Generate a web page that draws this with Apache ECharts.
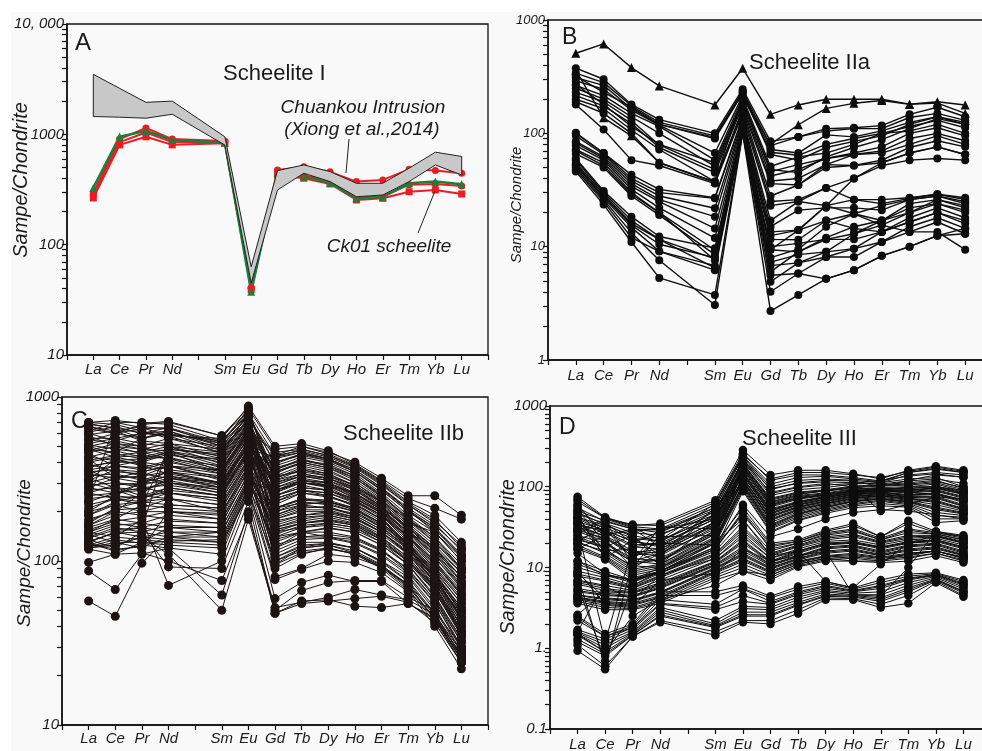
<!DOCTYPE html>
<html>
<head>
<meta charset="utf-8">
<script src="https://cdn.jsdelivr.net/npm/echarts/dist/echarts.min.js"></script>
<style>
html,body{margin:0;padding:0;background:#fff}
#chart{width:982px;height:751px}
</style>
</head>
<body>
<div id="chart"></div>
<script>
// Chondrite-normalised REE patterns, four panels (A–D)
const xLabels = ['La','Ce','Pr','Nd','','Sm','Eu','Gd','Tb','Dy','Ho','Er','Tm','Yb','Lu'];
const ree = ['La','Ce','Pr','Nd','Sm','Eu','Gd','Tb','Dy','Ho','Er','Tm','Yb','Lu'];

// Panel A — Scheelite I (Ck01) and Chuankou intrusion field
const ck01Red = [
  [294, 906, 1141, 906, 870, 41, 475, 508, 457, 373, 386, 482, 469, 444],
  [282, 850, 1038, 850, 840, 40, 457, 423, 385, 270, 272, 350, 355, 340],
  [265, 803, 950, 803, 830, 39, 428, 400, 355, 254, 263, 302, 313, 288]
];
const ck01RedSymbols = ['circle', 'circle', 'rect'];
const ck01Green = [327, 953, 1074, 890, 841, 37.5, 444, 414, 365, 263, 272, 360, 373, 353];
const chuankouUpper = [3500, 2610, 1950, 2000, 950, 63, 469, 528, 459, 360, 360, 493, 689, 630];
const chuankouLower = [1450, 1430, 1400, 1520, 800, 45, 313, 444, 373, 272, 282, 373, 528, 428];

// Panel B — Scheelite IIa
const scheeliteIIa = [
  [509, 615, 380, 262, 178, 375, 147, 178, 200, 200, 200, 181, 190, 178],
  [360, 137, 95, 55, 37.5, 210, 80, 119, 166, 184, 195, 180, 185, 150],
  [376, 300, 180, 132, 100, 245, 85, 93, 110, 112, 117, 147, 170, 140],
  [340, 280, 175, 125, 95, 235, 78, 93, 105, 110, 110, 138, 150, 130],
  [310, 265, 165, 120, 90, 225, 72, 67, 97, 93, 105, 125, 140, 120],
  [320, 230, 170, 120, 92, 230, 65, 58, 75, 85, 95, 120, 140, 125],
  [290, 245, 160, 118, 67, 215, 68, 64, 80, 90, 100, 115, 130, 112],
  [265, 215, 150, 115, 58, 205, 51, 62, 67, 80, 100, 105, 120, 100],
  [250, 200, 140, 100, 51, 195, 46, 53, 60, 67, 76, 100, 112, 95],
  [270, 180, 115, 80, 55, 190, 48, 45, 62, 75, 88, 110, 135, 120],
  [230, 190, 130, 79, 48, 185, 42, 48, 60, 65, 70, 90, 100, 86],
  [215, 175, 122, 75, 45, 175, 38, 40, 53, 65, 67, 80, 95, 80],
  [200, 165, 107, 72, 37.5, 165, 36, 35, 53, 52, 58, 75, 86, 76],
  [190, 150, 100, 55, 37, 160, 28, 35, 50, 52, 55, 67, 76, 65],
  [180, 108, 58, 52, 36, 150, 25, 26, 33, 40, 52, 58, 60, 58],
  [101, 67, 43, 32, 27, 140, 23, 25, 33, 26, 24, 26.7, 29, 26],
  [100, 67, 40, 30, 26.7, 135, 17, 25, 23, 26, 26, 27, 29, 27],
  [95, 65, 38, 28, 21.8, 130, 15, 21, 22, 22, 21, 26, 28, 25],
  [85, 62, 36, 26, 18.4, 125, 13.5, 14, 17, 19.5, 17, 24, 26, 23],
  [82, 60, 34, 25, 14.5, 120, 12.5, 14, 23, 19.5, 15.5, 20, 24, 20],
  [78, 58, 32, 22, 11.9, 115, 11.6, 11.5, 17, 14.5, 13.5, 18, 22, 18],
  [72, 55, 30, 20, 9.35, 110, 10, 10.7, 11.6, 13, 17, 20, 26, 22],
  [70, 52, 29, 20, 7.6, 105, 9.4, 14, 23, 40, 55, 67, 76, 65],
  [66, 50, 28, 19, 8.5, 108, 9.4, 9, 11.6, 11.6, 13.5, 16.5, 20, 17],
  [60, 31, 18.4, 12.3, 9.7, 115, 7.3, 8.5, 9, 9.6, 11, 15, 18, 14.5],
  [58, 30, 17, 11.6, 7.8, 112, 6.8, 7.2, 8.1, 8.1, 11, 13.5, 16.5, 13],
  [55, 29, 16, 11.6, 6.5, 105, 5.6, 5.8, 8.1, 9.6, 13.5, 16.5, 20, 16],
  [53, 28, 15.5, 10.5, 8, 108, 8, 9.5, 15, 19.5, 23, 26, 28, 24],
  [52, 27, 14.8, 9.1, 6.2, 100, 4.9, 7.2, 9, 13, 15.5, 13.5, 13.5, 9.4],
  [50, 26, 13.3, 7.6, 3.06, 100, 2.7, 3.75, 5.2, 6.2, 8.3, 10, 12.5, 14.5],
  [48, 25, 12, 9.1, 6.8, 110, 6, 9, 12, 15, 17, 22, 24, 21],
  [46, 23.5, 11, 5.3, 3.75, 102, 4.0, 5.8, 5.2, 6.2, 8.3, 10, 12.5, 13]
];
const scheeliteIIaSymbols = ['triangle', 'triangle'];

// Panel C — Scheelite IIb
const scheeliteIIb = [
  [690,640,560,600,520,850,480,500,460,400,320,250,250,190],
  [230,700,650,580,560,880,500,520,470,390,310,240,210,180],
  [640,600,680,700,580,820,300,330,320,280,230,180,140,90],
  [150,180,220,480,450,800,440,470,430,370,290,220,175,125],
  [560,560,600,650,500,760,200,230,220,200,160,120,80,45],
  [660,620,540,520,480,740,400,440,410,350,270,200,160,110],
  [470,520,500,560,460,720,150,160,170,160,130,100,70,40],
  [580,500,450,480,440,700,360,420,380,330,250,185,140,95],
  [130,150,160,500,420,680,350,400,370,320,245,175,130,90],
  [500,450,420,460,400,660,120,150,140,130,110,85,55,30],
  [400,430,440,420,380,650,330,380,350,300,230,165,120,85],
  [380,400,400,450,370,620,460,480,440,380,300,225,180,120],
  [450,380,360,400,350,600,250,280,270,240,200,150,110,70],
  [350,360,330,380,340,580,300,340,320,270,210,150,105,70],
  [330,340,310,350,320,560,180,200,200,180,150,115,75,42],
  [310,420,380,340,300,540,280,320,300,250,200,140,95,62],
  [290,300,290,320,290,520,420,460,420,360,280,210,165,118],
  [420,320,300,300,280,500,100,120,125,115,95,70,45,25],
  [270,280,270,310,270,480,250,290,270,230,185,125,82,52],
  [250,260,280,290,260,460,380,430,400,340,260,190,150,100],
  [240,250,240,270,250,450,160,180,190,175,145,110,72,38],
  [700,680,620,560,500,700,230,270,250,215,175,118,75,48],
  [620,700,700,680,540,780,140,150,160,150,125,95,62,33],
  [520,560,520,500,460,640,320,370,340,290,225,160,115,80],
  [480,460,560,620,480,720,210,240,230,210,170,130,88,55],
  [600,540,500,440,420,600,270,310,290,240,195,135,90,58],
  [360,300,280,260,240,420,440,500,450,385,305,230,190,130],
  [320,280,250,240,220,400,120,140,140,135,115,90,58,32],
  [200,220,200,200,190,360,260,300,280,235,190,130,86,55],
  [180,200,190,180,170,340,110,130,130,120,100,80,50,28],
  [160,180,170,160,160,320,190,220,210,195,160,120,80,45],
  [150,170,160,150,150,300,90,110,120,110,92,68,42,24],
  [140,160,150,140,140,290,170,190,200,185,150,112,75,40],
  [130,150,140,135,130,280,130,150,150,140,118,88,58,30],
  [125,140,135,130,125,270,230,260,250,220,180,122,80,50],
  [120,130,130,125,120,260,100,115,120,110,90,66,40,22],
  [220,240,230,220,210,380,150,170,175,165,135,100,68,36],
  [190,230,250,260,230,410,350,390,360,300,235,170,125,85],
  [170,210,230,240,200,370,140,160,165,155,130,95,60,34],
  [260,240,220,210,200,350,95,120,125,112,92,72,48,26],
  [145,130,120,200,180,330,200,220,230,205,165,125,84,48],
  [98,110,130,160,150,310,125,140,145,138,116,86,56,29],
  [87,67,110,120,110,280,80,90,110,105,92,70,44,26],
  [57,46,97,140,130,250,59,74,82,75,75,55,45,27],
  [135,120,150,92,90,230,48,57,58,53,52,55,44,25],
  [128,115,125,120,62,200,48,55,57,59,61,56,42,24],
  [118,110,112,100,76,190,52,56,60,67,62,58,47,28],
  [125,125,140,110,50,180,50,66,74,76,76,60,50,30],
  [150,140,180,71,100,260,77,89,100,98,85,65,46,27],
  [300,330,320,300,270,450,330,350,330,290,230,165,120,80],
  [280,260,300,330,300,500,290,330,310,260,205,145,98,64],
  [550,520,480,470,380,700,175,190,195,180,150,110,70,38],
  [510,480,460,420,350,620,220,260,245,220,180,125,85,50],
  [430,410,390,360,330,560,105,125,128,120,98,75,46,25],
  [390,350,340,320,300,520,185,210,215,190,155,118,78,42],
  [340,320,350,380,310,540,145,165,170,160,135,98,65,35],
  [700,720,690,710,580,860,260,310,300,255,205,150,120,80],
  [660,600,640,650,530,800,340,400,370,310,240,170,150,100],
  [610,660,600,620,500,780,390,450,420,360,280,205,150,105],
  [590,620,660,640,520,760,270,300,290,260,210,160,120,75],
  [540,600,560,600,470,740,430,460,420,350,275,205,160,105],
  [500,540,600,580,450,720,190,215,210,190,155,118,78,44],
  [460,500,480,520,430,690,310,360,330,280,215,155,110,72],
  [430,470,430,470,410,670,240,270,260,230,190,140,100,62],
  [410,440,460,500,390,640,370,410,390,330,255,180,130,88],
  [370,410,420,430,360,610,160,175,185,170,140,105,68,37],
  [340,380,370,410,340,590,280,310,300,260,205,150,100,66],
  [310,360,350,380,320,570,210,235,230,205,170,125,82,48],
  [280,320,330,350,300,540,400,450,410,350,270,200,155,108],
  [260,290,300,330,280,520,115,135,138,128,108,82,52,28],
  [230,260,270,300,260,490,320,360,340,285,220,160,112,75],
  [210,240,250,280,250,470,165,185,190,175,140,105,70,37],
  [190,220,230,260,240,440,270,300,285,245,195,140,92,60],
  [175,205,210,240,220,420,135,150,158,150,125,95,60,32],
  [165,190,200,220,210,400,240,270,260,225,180,128,84,52],
  [155,175,185,200,195,380,105,122,128,120,100,76,48,26],
  [145,165,170,190,180,360,210,240,235,210,168,122,80,46],
  [138,155,160,175,170,340,95,112,118,112,94,72,44,24],
  [132,148,150,165,160,320,180,205,205,185,150,112,74,40],
  [300,270,240,280,250,480,430,480,440,375,295,220,170,115],
  [480,430,400,380,360,640,155,170,178,165,135,100,66,36],
  [680,650,600,590,540,820,310,340,320,275,215,160,115,74],
  [360,380,410,460,350,600,290,330,310,270,215,155,105,68],
  [200,250,300,350,290,500,360,410,380,320,250,180,135,90],
  [165,200,260,320,280,470,250,280,270,235,190,135,90,58],
  [120,125,140,150,140,300,270,300,290,250,200,142,96,62],
  [122,135,128,132,135,280,210,225,225,200,162,120,78,44],
  [127,118,122,140,150,310,155,170,180,168,138,102,66,35]
];

// Panel D — Scheelite III
const scheeliteIII = [
  [75,42,33,35,68,285,140,160,160,145,125,160,180,160],
  [28,40,31,22,62,240,108,130,135,125,115,150,165,150],
  [58,26,28,30,40,220,82,98,105,110,120,135,145,130],
  [20,36,20,28,52,205,78,92,98,108,112,125,130,100],
  [48,34,24,14,48,195,72,86,92,102,106,112,120,95],
  [45,13,22,24,25,185,68,82,88,98,102,105,112,92],
  [22,30,13,22,42,180,64,78,84,94,98,100,108,88],
  [40,28,19,20,19,175,60,74,80,90,95,96,100,84],
  [38,16,17,11,38,168,56,70,78,88,92,92,96,80],
  [17,25,30,18,36,160,53,66,76,86,90,88,92,76],
  [34,24,15,17,34,152,50,63,73,83,88,84,88,72],
  [60,23,14,16,33,145,48,61,71,81,86,80,84,68],
  [30,22,10,15,55,138,46,59,69,79,84,78,80,64],
  [28,21,12,32,30,130,44,57,67,77,82,76,76,60],
  [52,20,11.5,13,28,125,42,55,65,75,80,74,72,57],
  [26,38,11,12.5,27,120,40,53,63,73,78,72,68,54],
  [24,18,25,12,26,116,38,51,61,71,76,70,64,52],
  [23,17,10,26,45,112,36,49,59,69,74,68,60,50],
  [42,16,9.5,11,24,108,34,47,57,67,72,66,56,48],
  [21,15,9,10.5,23,104,32,45,55,65,70,64,52,46],
  [36,14,8.5,10,22,100,31,43,53,62,68,62,48,44],
  [19,13.5,8,9.5,21,96,30,41,51,60,66,60,44,42],
  [18,13,7.5,9,20,92,28,39,49,58,62,58,40,40],
  [17,12.6,7,8.5,17,88,27,38,47,55,58,56,36,38],
  [65,41,34,33,64,260,120,140,140,130,118,150,170,150],
  [55,37,30,29,55,230,92,112,120,118,100,120,140,132],
  [42,33,25,21,50,210,85,100,110,100,90,100,100,90],
  [33,29,21,18,46,200,65,80,90,95,50,60,75,70],
  [8,0.6,12,15,30,150,50,65,75,85,90,85,80,70],
  [30,1.2,18,20,40,180,60,72,80,88,90,90,95,82],
  [70,41,32,30,60,250,125,150,150,140,130,155,175,155],
  [50,38,30,27,56,235,100,120,125,120,112,140,150,140],
  [46,35,27,25,50,215,95,110,115,112,108,118,125,110],
  [41,31,23,21,44,190,70,84,90,100,104,108,116,98],
  [37,29,21,19,40,172,62,76,82,92,96,94,102,86],
  [35,27,18,17,37,165,58,72,79,89,92,90,98,82],
  [31,25,16,15,35,150,52,64,74,84,88,86,90,74],
  [29,23,15,14,32,140,47,60,70,80,85,79,82,66],
  [25,20,13,12,29,128,43,56,66,76,80,75,74,58],
  [22,18,12,11,26,118,39,52,62,72,77,71,66,53],
  [20,16,10.5,10,23,106,33,46,56,66,71,65,54,47],
  [12,9,7,9,18,60,24,30,40,48,52,50,45,40],
  [15,8.3,7,10,20,55,20,22,29,35,24,38,28,24],
  [12,8,6.5,9,18,45,18,21,27,30,23,30,27,23],
  [9,7.5,6,8.5,16,38,16,20,25,28,22,27,26,22],
  [8.3,7,5.8,8,15,32,15,19,24,26,21,25,25,21],
  [1.6,6.5,5.5,7.5,14,28,14,18,22,24,20,23,24,20],
  [7,6,5.2,7,13,24,13,17,21,22,19,22,23,19],
  [6.5,5.5,5,6.5,12,22,12,16,20,21,18,21,22,18],
  [2.6,5,4.8,6,11.5,20,11.5,15,19,20,17,20,21,17],
  [5.5,4.8,4.5,5.8,11,18,11,14,18,19,16,19,20,16],
  [5,4.5,4.3,5.5,10.5,16,10.5,13.5,17,18,15,18,19,15],
  [8.5,4.2,4,5,10,15,10,13,16,17,14.5,17,18,14.5],
  [4.5,4,3.8,4.8,9.5,14,9.5,12.5,15,16,14,16,17,14],
  [4.3,3.8,3.6,4.5,9,13,9,12,14,15,13.5,15,16,13.5],
  [4.1,3.6,3.4,4.2,8.5,12,8.5,11.5,13.5,14,13,14,16,13],
  [4,3.4,3.2,4,8,11,8,11,13,13.5,12.5,13.5,15,12.5],
  [3.8,3.2,3.1,3.8,7.5,10,7.5,10.5,12.5,13,12,13,15,12],
  [3.6,3,3,3.6,7,9,7,10.2,12,12,11.5,12,14,11.5],
  [10,8,7,9,17,50,19,21,28,33,24,35,27,24],
  [6.8,5.8,4,8,13,26,13,16,6.7,5.6,11,20,25,20],
  [9,3.5,3.3,7,8.5,17,12,14,16,4.6,4.4,10,28,25],
  [6,0.7,6,9,20,40,14,16,20,20,18,20,22,18],
  [11,8.3,6.8,8.6,17,48,17,20,26,29,22,29,26,22],
  [7.8,6.8,5.6,7.8,14.5,30,14.5,18.5,23,25,20.5,24,24.5,20.5],
  [6.2,5.2,4.9,6.2,11.8,21,11.8,15.5,19.5,20.5,17.5,20.5,21.5,17.5],
  [5.2,4.6,4.4,5.6,10.8,17,10.8,13.8,17.5,18.5,15.5,18.5,19.5,15.5],
  [4.6,4.1,3.9,4.9,9.8,14.5,9.8,12.8,15.5,16.5,14.2,16.5,17.5,14.2],
  [4.2,3.7,3.5,4.3,8.8,12.5,8.8,11.8,13.8,14.5,13.2,14.5,16,13.2],
  [1.5,0.9,2.5,4,6,9,8,11,13,12,12,15,16,13],
  [2.5,1.5,2,5,5,6,4.4,5.8,6.7,5.6,7,8.3,8.6,7],
  [2.4,1.4,1.9,4.5,4.5,5.5,4.2,5.4,6.4,5.4,6.5,7.8,8.4,6.7],
  [2.2,1.4,1.8,3.6,3.2,4.5,3.6,4.8,5.8,5.1,5.8,7.2,8.1,6.2],
  [1.7,1.3,1.8,4,3.5,5.4,3.8,5,6,5.2,6,7.4,8.2,6.4],
  [1.6,1.2,1.7,3.5,3.0,3.8,3.5,4.6,5.5,5,5.5,7,8,6],
  [1.55,1.1,1.6,3.2,2.2,3.3,3.2,4.3,5.2,4.8,5,6.5,7.8,5.7],
  [1.5,1,1.55,3,2,3.1,3,4,5,4.6,4.6,6,7.5,5.4],
  [1.45,0.9,1.5,2.8,1.9,2.8,2.8,3.7,4.7,4.5,4.2,5.6,7.2,5.1],
  [1.3,0.85,1.45,2.6,1.85,2.6,2.6,3.5,4.5,4.4,4,5.3,7.1,5],
  [1.2,0.8,1.45,2.5,1.8,2.5,2.5,3.4,4.4,4.3,3.8,5,7,4.8],
  [1.1,0.6,1.4,2.2,1.6,2.2,2.2,3,4.2,4.1,3.5,4.5,6.8,4.5],
  [0.93,0.55,1.4,2.1,1.45,2.1,2,2.7,4,4,3.2,3.6,6.5,4.35]
];

// Axis tick values and their printed labels
const yTicksA = [10, 100, 1000, 10000];
const yTextA = ['10', '100', '1000', '10, 000'];
const yTicksB = [1, 10, 100, 1000];
const yTextB = ['1', '10', '100', '1000'];
const yTicksC = [10, 100, 1000];
const yTextC = ['10', '100', '1000'];
const yTicksD = [0.1, 1, 10, 100, 1000];
const yTextD = ['0.1', '1.', '10.', '100.', '1000'];

// ---------- helpers ----------
const FONT = '"Liberation Sans", Arial, sans-serif';
const slot = i => xLabels.indexOf(ree[i]);
const profile = vals => vals.map((v, i) => [slot(i), v]);

function labelFor(ticks, texts) {
  return v => {
    const i = ticks.findIndex(t => Math.abs(Math.log10(t) - Math.log10(v)) < 1e-6);
    return i >= 0 ? texts[i] : '';
  };
}

// tick marks at every decade plus 2..9 inside each decade
function logTickValues(ticks) {
  const vals = [];
  for (let d = 0; d < ticks.length - 1; d++) {
    for (let k = 1; k <= 9; k++) vals.push(Number((ticks[d] * k).toPrecision(6)));
  }
  vals.push(ticks[ticks.length - 1]);
  return vals;
}

const panels = [
  { grid: { left: 67, top: 24, width: 421, height: 331 }, ticks: yTicksA, texts: yTextA, yFont: 15, xMargin: 7 },
  { grid: { left: 548, top: 20, width: 445, height: 340 }, ticks: yTicksB, texts: yTextB, yFont: 13, xMargin: 8 },
  { grid: { left: 62, top: 397, width: 426, height: 328 }, ticks: yTicksC, texts: yTextC, yFont: 15, xMargin: 6 },
  { grid: { left: 550, top: 406, width: 441, height: 323 }, ticks: yTicksD, texts: yTextD, yFont: 15, xMargin: 8 }
];

const grids = panels.map(p => Object.assign({
  show: true, borderColor: '#111', borderWidth: 1.3, backgroundColor: 'transparent',
  containLabel: false, outerBoundsMode: 'none'
}, p.grid));

const xAxes = panels.map((p, i) => ({
  type: 'value', gridIndex: i, min: -1, max: 15, interval: 1,
  axisLine: { show: true, onZero: false, lineStyle: { color: '#111', width: 1.5 } },
  axisTick: { show: true, length: 5, lineStyle: { color: '#111', width: 1.2 } },
  axisLabel: {
    formatter: v => xLabels[v] || '', fontStyle: 'italic', fontSize: 15, color: '#1a1a1a',
    fontFamily: FONT, margin: p.xMargin, showMinLabel: true, showMaxLabel: true, hideOverlap: false
  },
  splitLine: { show: false }
}));

const yAxes = panels.map((p, i) => ({
  type: 'log', logBase: 10, gridIndex: i,
  min: p.ticks[0], max: p.ticks[p.ticks.length - 1],
  axisLine: { show: true, onZero: false, lineStyle: { color: '#111', width: 1.5 } },
  axisTick: { show: true, length: 5, customValues: logTickValues(p.ticks),
              lineStyle: { color: '#111', width: 1.2 } },
  axisLabel: {
    formatter: labelFor(p.ticks, p.texts), fontStyle: 'italic', fontSize: p.yFont,
    color: '#1a1a1a', fontFamily: FONT, margin: 3, showMinLabel: true, showMaxLabel: true, hideOverlap: false
  },
  splitLine: { show: false }
}));

function lineSeries(idx, vals, o) {
  return {
    type: 'line', xAxisIndex: idx, yAxisIndex: idx, data: profile(vals),
    symbol: o.symbol || 'circle', symbolSize: o.size, showSymbol: true, showAllSymbol: true,
    lineStyle: { color: o.color, width: o.width },
    itemStyle: { color: o.fill || o.color, borderColor: o.color, borderWidth: o.border || 0, opacity: 1 },
    emphasis: { disabled: true }, silent: true, animation: false, z: o.z || 3
  };
}

const series = [];

// Panel A
ck01Red.forEach((vals, k) => series.push(lineSeries(0, vals,
  { color: '#ec1c24', width: 2, size: 7, symbol: ck01RedSymbols[k], z: 3 })));
series.push(lineSeries(0, ck01Green, { color: '#17803a', width: 2.5, size: 8, symbol: 'triangle', z: 3 }));
series.push({
  type: 'custom', xAxisIndex: 0, yAxisIndex: 0, silent: true, z: 4, clip: false,
  data: [[0, chuankouUpper[0]]],
  renderItem: (params, api) => {
    const top = chuankouUpper.map((v, i) => api.coord([slot(i), v]));
    const bottom = chuankouLower.map((v, i) => api.coord([slot(i), v])).reverse();
    return { type: 'polygon', shape: { points: top.concat(bottom) },
             style: { fill: '#c8c8c8', stroke: '#222', lineWidth: 1 } };
  }
});

// Panel B
scheeliteIIa.forEach((vals, k) => series.push(lineSeries(1, vals,
  { color: '#0d0d0d', width: 1.4, size: k < 2 ? 9 : 8, symbol: scheeliteIIaSymbols[k] || 'circle' })));

// Panel C
scheeliteIIb.forEach(vals => series.push(lineSeries(2, vals,
  { color: '#1c1412', width: 1, size: 9 })));

// Panel D
scheeliteIII.forEach(vals => series.push(lineSeries(3, vals,
  { color: '#0d0d0d', width: 1, size: 8.5 })));

// Texts and leader lines
function txt(x, y, text, size, opts) {
  opts = opts || {};
  return {
    type: 'text', x: x, y: y, rotation: opts.rotation || 0, silent: true, z: opts.z || 0,
    style: {
      text: text, fill: '#1a1a1a', font: (opts.italic ? 'italic ' : '') + size + 'px ' + FONT,
      textAlign: opts.align || 'left', align: opts.align || 'left',
      textVerticalAlign: 'middle', verticalAlign: 'middle'
    }
  };
}

const graphics = [
  { type: 'rect', shape: { x: 0, y: 0, width: 982, height: 12 }, style: { fill: '#ffffff' }, silent: true, z: -10 },
  { type: 'rect', shape: { x: 0, y: 0, width: 11, height: 751 }, style: { fill: '#ffffff' }, silent: true, z: -10 },
  // panel letters
  txt(75, 43, 'A', 24),
  txt(562, 38, 'B', 23),
  txt(71, 422, 'C', 23),
  txt(559, 428, 'D', 23),
  // panel titles
  txt(223, 74, 'Scheelite I', 22),
  txt(749, 63, 'Scheelite IIa', 22),
  txt(343, 434, 'Scheelite IIb', 22),
  txt(742, 439, 'Scheelite III', 22),
  // annotations in A
  txt(363, 108, 'Chuankou Intrusion', 19, { italic: true, align: 'center' }),
  txt(362, 130, '(Xiong et al.,2014)', 19, { italic: true, align: 'center' }),
  txt(389, 247, 'Ck01 scheelite', 19, { italic: true, align: 'center' }),
  { type: 'line', shape: { x1: 349, y1: 139, x2: 346, y2: 173 }, style: { stroke: '#222', lineWidth: 1 }, silent: true, z: 10 },
  { type: 'line', shape: { x1: 418, y1: 233, x2: 435, y2: 191 }, style: { stroke: '#222', lineWidth: 1 }, silent: true, z: 10 },
  // y-axis titles
  txt(21, 180, 'Sampe/Chondrite', 20, { italic: true, align: 'center', rotation: Math.PI / 2 }),
  txt(517, 205, 'Sampe/Chondrite', 15, { italic: true, align: 'center', rotation: Math.PI / 2 }),
  txt(25, 553, 'Sampe/Chondrite', 19, { italic: true, align: 'center', rotation: Math.PI / 2 }),
  txt(508, 557, 'Sampe/Chondrite', 20, { italic: true, align: 'center', rotation: Math.PI / 2 })
];

const chart = echarts.init(document.getElementById('chart'), null, { renderer: 'canvas' });
chart.setOption({
  animation: false,
  backgroundColor: '#f9f9f9',
  textStyle: { fontFamily: FONT },
  grid: grids,
  xAxis: xAxes,
  yAxis: yAxes,
  series: series,
  graphic: graphics
});
</script>
</body>
</html>
